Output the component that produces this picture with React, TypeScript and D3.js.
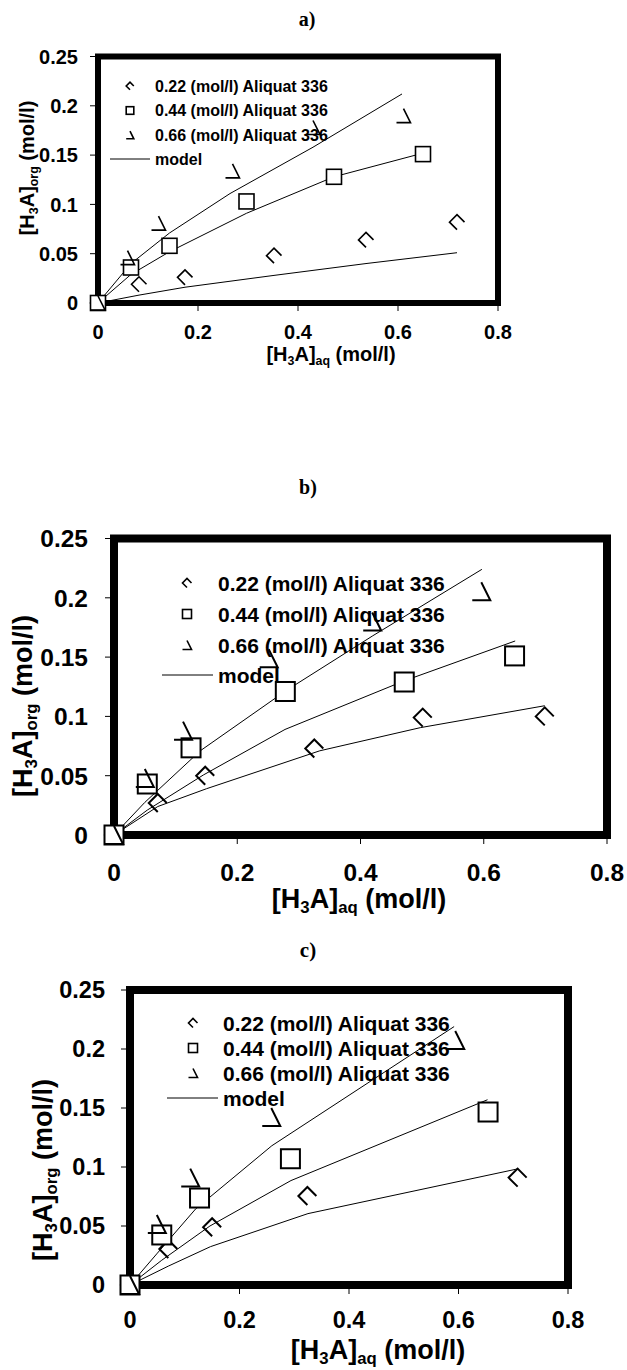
import React from 'react';
import * as d3 from 'd3';

// ---------- shared labels ----------
const xTickValues = [0, 0.2, 0.4, 0.6, 0.8];
const xTickLabels = ['0', '0.2', '0.4', '0.6', '0.8'];
const yTickValues = [0, 0.05, 0.1, 0.15, 0.2, 0.25];
const yTickLabels = ['0', '0.05', '0.1', '0.15', '0.2', '0.25'];
const seriesNames = ['0.22 (mol/l) Aliquat 336', '0.44 (mol/l) Aliquat 336', '0.66 (mol/l) Aliquat 336'];
const modelName = 'model';
const panelNames = ['a)', 'b)', 'c)'];

// ---------- panel a ----------
const aX022 = [0, 0.082, 0.174, 0.352, 0.536, 0.718];
const aY022 = [0, 0.019, 0.026, 0.048, 0.064, 0.082];
const aX044 = [0, 0.066, 0.143, 0.297, 0.472, 0.65];
const aY044 = [0, 0.036, 0.058, 0.103, 0.128, 0.151];
const aX066 = [0, 0.059, 0.121, 0.269, 0.43, 0.611];
const aY066 = [0, 0.046, 0.081, 0.134, 0.178, 0.19];
const aModelX022 = [0, 0.082, 0.174, 0.352, 0.536, 0.718];
const aModelY022 = [0, 0.008, 0.016, 0.028, 0.04, 0.051];
const aModelX044 = [0, 0.066, 0.143, 0.297, 0.472, 0.65];
const aModelY044 = [0, 0.029, 0.052, 0.091, 0.128, 0.152];
const aModelX066 = [0, 0.066, 0.143, 0.264, 0.43, 0.608];
const aModelY066 = [0, 0.04, 0.071, 0.111, 0.158, 0.212];

// ---------- panel b ----------
const bX022 = [0, 0.071, 0.148, 0.325, 0.501, 0.699];
const bY022 = [0, 0.027, 0.05, 0.073, 0.099, 0.1];
const bX044 = [0, 0.054, 0.125, 0.278, 0.471, 0.65];
const bY044 = [0, 0.043, 0.0735, 0.121, 0.129, 0.151];
const bX066 = [0, 0.05, 0.112, 0.251, 0.419, 0.596];
const bY066 = [0, 0.048, 0.088, 0.149, 0.18, 0.2055];
const bModelX022 = [0, 0.071, 0.15, 0.334, 0.497, 0.699];
const bModelY022 = [0, 0.024, 0.039, 0.071, 0.0905, 0.109];
const bModelX044 = [0, 0.054, 0.145, 0.2775, 0.471, 0.651];
const bModelY044 = [0, 0.021, 0.0506, 0.089, 0.13, 0.1636];
const bModelX066 = [0, 0.05, 0.14, 0.28, 0.42, 0.597];
const bModelY066 = [0, 0.0275, 0.071, 0.122, 0.168, 0.224];

// ---------- panel c ----------
const cX022 = [0, 0.07, 0.15, 0.324, 0.708];
const cY022 = [0, 0.0305, 0.049, 0.0754, 0.091];
const cX044 = [0, 0.058, 0.127, 0.293, 0.654];
const cY044 = [0, 0.0424, 0.0737, 0.107, 0.1466];
const cX066 = [0, 0.049, 0.11, 0.258, 0.594];
const cY066 = [0, 0.0517, 0.091, 0.1424, 0.2076];
const cModelX022 = [0, 0.07, 0.147, 0.325, 0.709];
const cModelY022 = [0, 0.016, 0.0325, 0.0605, 0.0985];
const cModelX044 = [0, 0.058, 0.146, 0.294, 0.653];
const cModelY044 = [0, 0.021, 0.05, 0.0885, 0.157];
const cModelX066 = [0, 0.05, 0.12, 0.259, 0.592];
const cModelY066 = [0, 0.027, 0.0645, 0.118, 0.219];

type Pt = [number, number];
const zip = (xs: number[], ys: number[]): Pt[] => xs.map((v, i) => [v, ys[i]] as Pt);

const FONT = '"Liberation Sans", Arial, Helvetica, sans-serif';
const SERIF = '"Liberation Serif", "Times New Roman", serif';

const diamondPath = (s: number) => `M${s},0L0,${-s}L${-s},0L0,${s}`;
const triPath = (s: number) => `M0,${-s}L${s},${s}L${-s},${s}`;

function Glyph({ kind, cx, cy, s, sw }: { kind: number; cx: number; cy: number; s: number; sw: number }) {
  if (kind === 1) {
    return <rect x={cx - s} y={cy - s} width={2 * s} height={2 * s} fill="#fff" stroke="#000" strokeWidth={sw} />;
  }
  const d = kind === 0 ? diamondPath(s) : triPath(s);
  return <path d={d} transform={`translate(${cx},${cy})`} fill="none" stroke="#000" strokeWidth={sw} strokeLinejoin="miter" />;
}

function AxisTitle({ x, y, size, sub, rotate }: { x: number; y: number; size: number; sub: string; rotate?: boolean }) {
  const ss = size * 0.62;
  const off = size * 0.2;
  return (
    <text x={x} y={y} fontSize={size} fontWeight="bold" fontFamily={FONT} textAnchor="middle"
      style={{ whiteSpace: 'pre' }} transform={rotate ? `rotate(-90 ${x} ${y})` : undefined}>
      <tspan>[H</tspan>
      <tspan fontSize={ss} dy={off}>3</tspan>
      <tspan dy={-off}>A]</tspan>
      <tspan fontSize={ss} dy={off}>{sub}</tspan>
      <tspan dy={-off}> (mol/l)</tspan>
    </text>
  );
}

interface Layout {
  label: string; labelX: number; labelY: number; labelSize: number;
  xRange: [number, number]; yRange: [number, number]; border: number;
  tickSize: number; xTickBaseline: number; yTickRight: number;
  titleSize: number; xTitleX: number; xTitleY: number; yTitleX: number; yTitleY: number;
  legMarkX: number; legTextX: number; legRows: number[]; legLine: [number, number]; legSize: number; legGlyph: number;
  markS: number[]; markSW: number;
}

interface PanelData { pts: Pt[][]; models: Pt[][] }

function Panel({ L, D }: { L: Layout; D: PanelData }) {
  const x = d3.scaleLinear().domain([0, 0.8]).range(L.xRange);
  const y = d3.scaleLinear().domain([0, 0.25]).range(L.yRange);
  const line = d3.line<Pt>().x(d => x(d[0])).y(d => y(d[1]));
  const half = L.border / 2;
  const x0 = x(0), x1 = x(0.8), y0 = y(0), y1 = y(0.25);
  return (
    <g>
      <text x={L.labelX} y={L.labelY} fontSize={L.labelSize} fontWeight="bold" fontFamily={SERIF} textAnchor="middle">{L.label}</text>
      {D.models.map((m, i) => (
        <path key={'m' + i} d={line(m) || ''} fill="none" stroke="#000" strokeWidth={1} />
      ))}
      <rect x={x0} y={y1} width={x1 - x0} height={y0 - y1} fill="none" stroke="#000" strokeWidth={L.border} />
      {yTickValues.map((t, i) => (
        <g key={'yt' + i}>
          <line x1={x0 - half - 5} x2={x0 - half} y1={y(t)} y2={y(t)} stroke="#000" strokeWidth={1} />
          <text x={L.yTickRight} y={y(t)} dy="0.36em" textAnchor="end" fontSize={L.tickSize} fontWeight="bold" fontFamily={FONT}>{yTickLabels[i]}</text>
        </g>
      ))}
      {xTickValues.map((t, i) => (
        <g key={'xt' + i}>
          {i > 0 && <line x1={x(t)} x2={x(t)} y1={y0 + half} y2={y0 + half + 5} stroke="#000" strokeWidth={1} />}
          <text x={x(t)} y={L.xTickBaseline} textAnchor="middle" fontSize={L.tickSize} fontWeight="bold" fontFamily={FONT}>{xTickLabels[i]}</text>
        </g>
      ))}
      <AxisTitle x={L.xTitleX} y={L.xTitleY} size={L.titleSize} sub="aq" />
      <AxisTitle x={L.yTitleX} y={L.yTitleY} size={L.titleSize} sub="org" rotate />
      {seriesNames.map((n, i) => (
        <g key={'lg' + i}>
          <Glyph kind={i} cx={L.legMarkX} cy={L.legRows[i]} s={L.legGlyph} sw={1.6} />
          <text x={L.legTextX} y={L.legRows[i]} dy="0.36em" fontSize={L.legSize} fontWeight="bold" fontFamily={FONT}>{n}</text>
        </g>
      ))}
      <line x1={L.legLine[0]} x2={L.legLine[1]} y1={L.legRows[3]} y2={L.legRows[3]} stroke="#000" strokeWidth={1} />
      <text x={L.legTextX} y={L.legRows[3]} dy="0.36em" fontSize={L.legSize} fontWeight="bold" fontFamily={FONT}>{modelName}</text>
      {D.pts.map((ser, si) => ser.map((p, pi) => (
        <Glyph key={`p${si}-${pi}`} kind={si} cx={x(p[0])} cy={y(p[1])} s={L.markS[si]} sw={L.markSW} />
      )))}
    </g>
  );
}

const layoutA: Layout = {
  label: panelNames[0], labelX: 307, labelY: 26, labelSize: 20,
  xRange: [98, 498], yRange: [303, 56.5], border: 6,
  tickSize: 20, xTickBaseline: 339, yTickRight: 78,
  titleSize: 20, xTitleX: 331, xTitleY: 361, yTitleX: 34, yTitleY: 168,
  legMarkX: 130, legTextX: 155, legRows: [86, 110.5, 135, 159], legLine: [110, 150], legSize: 16, legGlyph: 3.8,
  markS: [7.5, 7.5, 7], markSW: 1.6,
};
const layoutB: Layout = {
  label: panelNames[1], labelX: 308, labelY: 494, labelSize: 20,
  xRange: [114, 607], yRange: [835, 538.5], border: 8,
  tickSize: 24.5, xTickBaseline: 881, yTickRight: 88,
  titleSize: 27, xTitleX: 359, xTitleY: 908, yTitleX: 32, yTitleY: 706,
  legMarkX: 187, legTextX: 218, legRows: [583, 614, 645, 675], legLine: [162, 213], legSize: 21, legGlyph: 4.5,
  markS: [9, 9.5, 9], markSW: 2,
};
const layoutC: Layout = {
  label: panelNames[2], labelX: 308, labelY: 957, labelSize: 21,
  xRange: [130, 568], yRange: [1285, 990], border: 8,
  tickSize: 23.5, xTickBaseline: 1328, yTickRight: 105,
  titleSize: 27, xTitleX: 378, xTitleY: 1359, yTitleX: 52, yTitleY: 1170,
  legMarkX: 193, legTextX: 223, legRows: [1023, 1048, 1073, 1098], legLine: [167, 218], legSize: 21, legGlyph: 4.5,
  markS: [9, 9.5, 9], markSW: 2,
};

const dataA: PanelData = {
  pts: [zip(aX022, aY022), zip(aX044, aY044), zip(aX066, aY066)],
  models: [zip(aModelX022, aModelY022), zip(aModelX044, aModelY044), zip(aModelX066, aModelY066)],
};
const dataB: PanelData = {
  pts: [zip(bX022, bY022), zip(bX044, bY044), zip(bX066, bY066)],
  models: [zip(bModelX022, bModelY022), zip(bModelX044, bModelY044), zip(bModelX066, bModelY066)],
};
const dataC: PanelData = {
  pts: [zip(cX022, cY022), zip(cX044, cY044), zip(cX066, cY066)],
  models: [zip(cModelX022, cModelY022), zip(cModelX044, cModelY044), zip(cModelX066, cModelY066)],
};

export default function App() {
  return (
    <svg width={627} height={1370} style={{ position: 'absolute', left: 0, top: 0, background: '#fff' }}>
      <rect x={0} y={0} width={627} height={1370} fill="#fff" />
      <Panel L={layoutA} D={dataA} />
      <Panel L={layoutB} D={dataB} />
      <Panel L={layoutC} D={dataC} />
    </svg>
  );
}
